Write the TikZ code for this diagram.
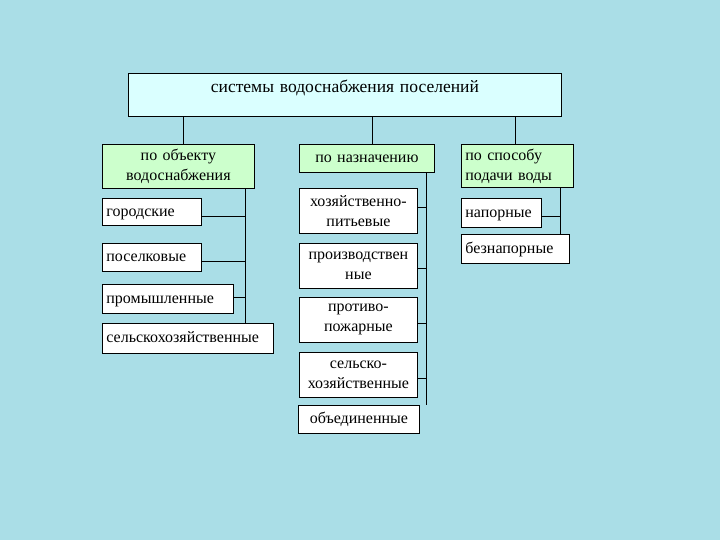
\documentclass[tikz,border=0pt]{standalone}
\usepackage{fontspec}
\setmainfont{Liberation Serif}
\definecolor{bgc}{RGB}{170,222,231}
\definecolor{titlec}{RGB}{218,255,255}
\definecolor{greenc}{RGB}{204,255,204}
\newcommand\fs{\fontsize{16pt}{20pt}\selectfont}
\newcommand\fst{\fontsize{17.5pt}{20pt}\selectfont\spaceskip=5.5pt plus 1pt}
% multi-line box
\newcommand\mkbox[7]{%
  \pgfmathsetmacro\bxw{#4-#2-8}\pgfmathsetmacro\bxh{#5-#3}%
  \node[#6, text width=\bxw pt, minimum height=\bxh pt] (#1) at (#2,-#3) {#7};}
% single-line box: baseline 4.5pt below the middle
\newcommand\mkone[7]{%
  \pgfmathsetmacro\bxw{#4-#2-8}\pgfmathsetmacro\bxt{(#5-#3)/2+4.5}\pgfmathsetmacro\bxd{(#5-#3)/2-4.5}%
  \node[#6, text width=\bxw pt, text height=\bxt pt, text depth=\bxd pt] (#1) at (#2,-#3) {#7};}
\tikzset{
  base/.style={draw=black, line width=0.8pt, inner xsep=4pt, inner ysep=0pt,
    anchor=north west, font=\fs, align=center},
  wbox/.style={base, fill=white},
  lbox/.style={base, fill=white, align=left},
  gbox/.style={base, fill=greenc},
  glbox/.style={base, fill=greenc, align=left},
  conn/.style={draw=black, line width=0.8pt},
}
\begin{document}
\begin{tikzpicture}[x=1pt,y=1pt]
\fill[bgc] (0,0) rectangle (720,-540);
\useasboundingbox (0,0) rectangle (720,-540);
% title
\node[base, fill=titlec, font=\fst, text width=425pt, text height=19pt, text depth=24pt]
  (title) at (128,-73) {системы водоснабжения поселений};
% category boxes
\mkbox{g1}{102}{144}{254}{188}{gbox}{по объекту\\водоснабжения}
\mkone{g2}{299}{144}{434}{172}{gbox}{по назначению}
\mkbox{g3}{461}{144}{573}{187}{glbox}{по способу\\подачи воды}
% left column
\mkone{L1}{102}{198}{201}{225}{lbox}{городские}
\mkone{L2}{102}{243}{201}{271}{lbox}{поселковые}
\mkone{L3}{102}{284}{233}{313}{lbox}{промышленные}
\mkone{L4}{102}{323}{273}{353}{lbox}{сельскохозяйственные}
% middle column
\mkbox{M1}{299}{188}{417}{233}{wbox}{хозяйственно-\\питьевые}
\mkbox{M2}{299}{243}{417}{288}{wbox}{производствен\\ные}
\mkbox{M3}{299}{297}{417}{342}{wbox}{противо-\\пожарные}
\mkbox{M4}{299}{352}{417}{397}{wbox}{сельско-\\хозяйственные}
\mkone{M5}{298}{405}{419}{433}{wbox}{объединенные}
% right column
\mkone{R1}{461}{198}{541}{227}{lbox}{напорные}
\mkone{R2}{461}{234}{569}{263}{lbox}{безнапорные}
% connectors from title
\draw[conn] ([xshift=55pt]title.south west) -- ([xshift=81pt]g1.north west);
\draw[conn] ([xshift=244pt]title.south west) -- ([xshift=73pt]g2.north west);
\draw[conn] ([xshift=387pt]title.south west) -- ([xshift=54pt]g3.north west);
% left spine
\coordinate (lsT) at ([xshift=143pt]g1.south west);
\coordinate (lsB) at ([xshift=143pt]L4.north west);
\draw[conn] (lsT) -- (lsB);
\draw[conn] ([yshift=-4.5pt]L1.east) -- ([yshift=-4.5pt]L1.east -| lsT);
\draw[conn] ([yshift=-4pt]L2.east) -- ([yshift=-4pt]L2.east -| lsT);
\draw[conn] ([yshift=1.5pt]L3.east) -- ([yshift=1.5pt]L3.east -| lsT);
% middle spine
\coordinate (msT) at ([xshift=127pt]g2.south west);
\coordinate (msB) at (M5.north -| msT);
\draw[conn] (msT) -- (msB);
\draw[conn] ([yshift=3.5pt]M1.east) -- ([yshift=3.5pt]M1.east -| msT);
\draw[conn] ([yshift=-2.5pt]M2.east) -- ([yshift=-2.5pt]M2.east -| msT);
\draw[conn] ([yshift=-3.5pt]M3.east) -- ([yshift=-3.5pt]M3.east -| msT);
\draw[conn] ([yshift=-3.5pt]M4.east) -- ([yshift=-3.5pt]M4.east -| msT);
% right spine
\coordinate (rsT) at ([xshift=99pt]g3.south west);
\coordinate (rsB) at ([xshift=99pt]R2.north west);
\draw[conn] (rsT) -- (rsB);
\draw[conn] ([yshift=-3.5pt]R1.east) -- ([yshift=-3.5pt]R1.east -| rsT);
\end{tikzpicture}
\end{document}
